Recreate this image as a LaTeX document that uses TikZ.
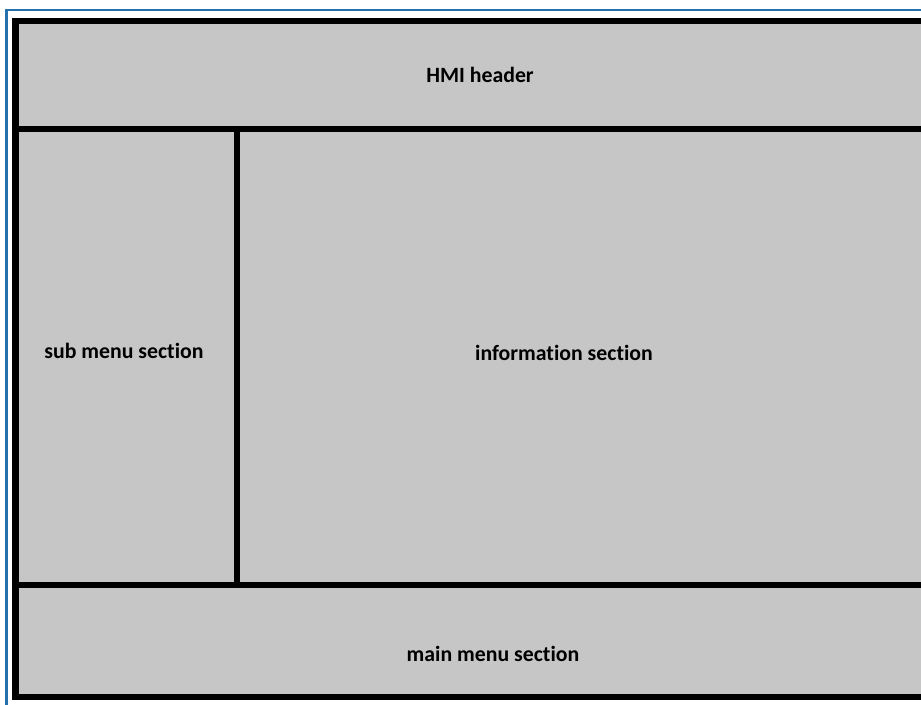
\documentclass[tikz,border=0pt]{standalone}
\usepackage{fontspec}
\setmainfont[Ligatures=NoCommon]{Carlito}
\definecolor{panelgray}{RGB}{198,198,198}
\definecolor{edgeblue}{RGB}{36,112,172}
\tikzset{
  panel/.style={fill=panelgray,draw=black,line width=0.15cm},
  panellabel/.style={anchor=base,font=\fontsize{15.5}{18}\selectfont\bfseries}
}
\begin{document}
\begin{tikzpicture}[x=0.025cm,y=-0.025cm]
            \useasboundingbox (0,0) rectangle (921,704);
            \clip (0,0) rectangle (921,704);
            \fill[white] (0,0) rectangle (921,704);
            \draw[edgeblue,line width=0.05cm] (6.5,710)--(6.5,9.5)--(930,9.5);
            % panels
            \draw[panel] (15.5,21) rectangle (940,128.5);
            \draw[panel] (15.5,128.5) rectangle (236.5,585);
            \draw[panel] (236.5,128.5) rectangle (940,585);
            \draw[panel] (15.5,585) rectangle (940,696.5);
            % labels
            \node[panellabel] (header) at (480,82){HMI header};
            \node[panellabel] (submenu) at (124,358){sub menu section};
            \node[panellabel] (info) at (564,360){information section};
            \node[panellabel] (mainmenu) at (493,661){main menu section};
        \end{tikzpicture}
\end{document}
